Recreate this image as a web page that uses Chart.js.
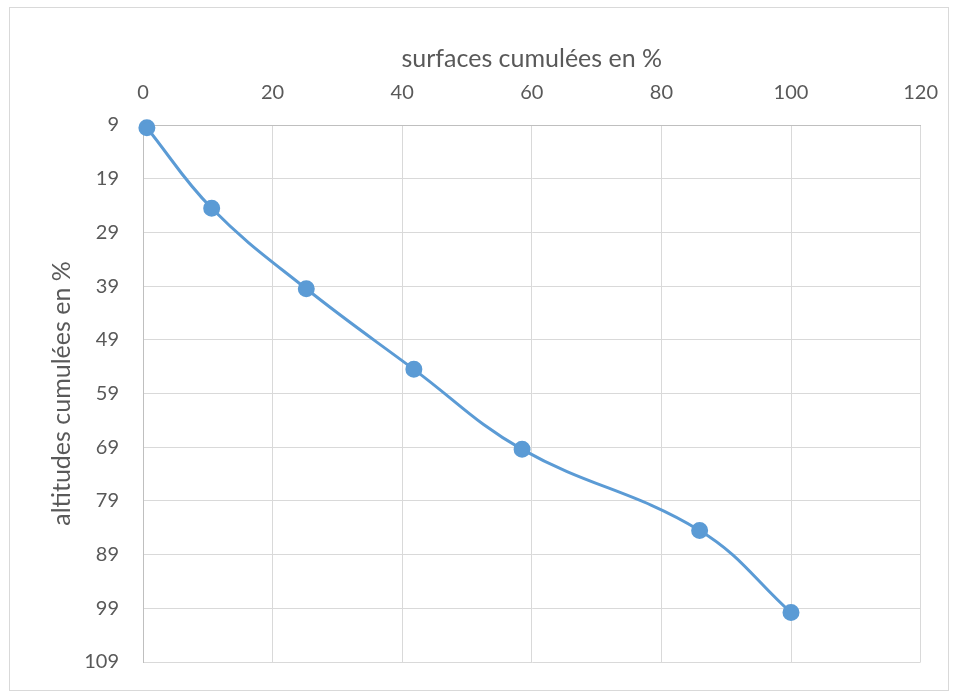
<!DOCTYPE html>
<html>
<head>
<meta charset="utf-8">
<script src="https://cdn.jsdelivr.net/npm/chart.js@4.4.1/dist/chart.umd.min.js"></script>
<style>
  html, body { margin: 0; padding: 0; background: #fff; }
  #wrap { position: relative; width: 958px; height: 698px; }
  #frame { position: absolute; left: 9px; top: 7px; width: 940px; height: 684px; border: 1px solid #D9D9D9; box-sizing: border-box; }
  canvas { position: absolute; left: 0; top: 0; }
</style>
</head>
<body>
<div id="wrap">
  <div id="frame"></div>
  <canvas id="myChart" width="958" height="698"></canvas>
</div>
<script>
// surfaces cumulées (%) et altitudes cumulées (%)
let surfaces = [0.6, 10.6, 25.2, 41.8, 58.5, 85.9, 100];
let altitudes = [9.5, 24.5, 39.5, 54.5, 69.4, 84.5, 99.8];
let yTicks = [9, 19, 29, 39, 49, 59, 69, 79, 89, 99, 109];

let points = [];
for (let i = 0; i < surfaces.length; i++) {
  points.push({x: surfaces[i], y: altitudes[i]});
}

const police = "Lato, 'Open Sans', sans-serif";
const gris = '#595959';

const ctx = document.getElementById('myChart');
const myChart = new Chart(ctx, {
  type: 'line',
  data: {
    datasets: [{
      data: points,
      borderColor: '#5B9BD5',
      backgroundColor: '#5B9BD5',
      borderWidth: 3,
      pointRadius: 7,
      pointHoverRadius: 7,
      tension: 0.4,
      clip: false
    }]
  },
  options: {
    responsive: false,
    animation: false,
    layout: { padding: { left: 0, top: 0, right: 35, bottom: 26 } },
    plugins: { legend: { display: false }, tooltip: { enabled: false } },
    scales: {
      x: {
        type: 'linear',
        position: 'top',
        min: 0,
        max: 120,
        ticks: { stepSize: 20, padding: 20, color: gris, font: { family: police, size: 20 } },
        grid: { color: '#D9D9D9', drawTicks: false },
        border: { color: '#BFBFBF' },
        title: { display: true, text: 'surfaces cumulées en %', color: gris,
                 font: { family: police, size: 25 }, padding: { top: 44, bottom: 0 } },
        afterFit: function (s) { s.height = 125; }
      },
      y: {
        type: 'linear',
        reverse: true,
        min: 9,
        max: 109,
        afterBuildTicks: function (s) { s.ticks = yTicks.map(v => ({value: v})); },
        ticks: { padding: 24, color: gris, font: { family: police, size: 20 } },
        grid: { color: '#D9D9D9', drawTicks: false },
        border: { color: '#BFBFBF' },
        title: { display: true, text: 'altitudes cumulées en %', color: gris,
                 font: { family: police, size: 25 }, padding: { top: 47, bottom: 0 } },
        afterFit: function (s) { s.width = 143; }
      }
    }
  }
});
</script>
</body>
</html>
